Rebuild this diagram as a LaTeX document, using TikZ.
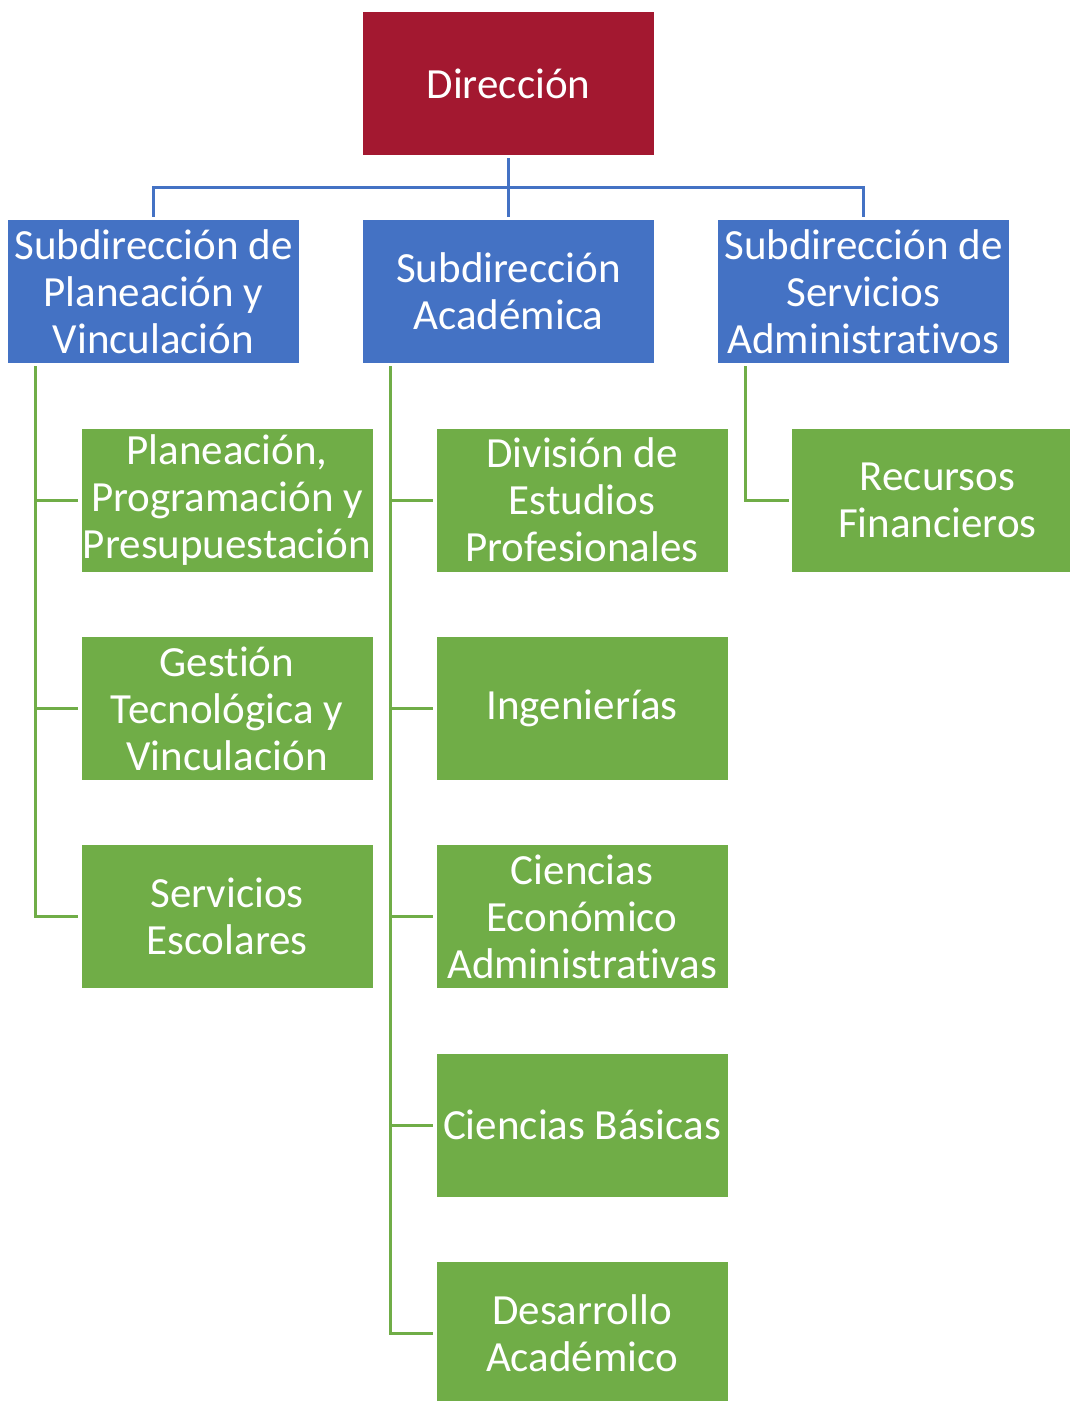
\documentclass[tikz,border=0pt]{standalone}
\usepackage{fontspec}
\setmainfont{Carlito}[Ligatures={NoCommon}]
\definecolor{cred}{HTML}{A31830}
\definecolor{cblue}{HTML}{4472C4}
\definecolor{cgreen}{HTML}{70AD47}
\begin{document}
\begin{tikzpicture}[x=1pt,y=-1pt,
  box/.style={rectangle,inner sep=0pt,minimum width=291pt,minimum height=143pt,
    text=white,align=center,font=\fontsize{43}{47}\selectfont},
  redbox/.style={box,fill=cred},
  bluebox/.style={box,fill=cblue},
  greenbox/.style={box,fill=cgreen},
  bline/.style={draw=cblue,line width=3pt,shorten <=3pt,shorten >=3pt},
  gline/.style={draw=cgreen,line width=3pt,shorten <=3pt,shorten >=3pt}]
\useasboundingbox (0,0) rectangle (1070,1401);
\node[redbox] (dir) at (508.5,83.5) {Dirección};
\node[bluebox] (s1) at (153.5,291.5) {Subdirección de\\Planeación y\\Vinculación};
\node[bluebox] (s2) at (508.5,291.5) {Subdirección\\Académica};
\node[bluebox] (s3) at (863.5,291.5) {Subdirección de\\Servicios\\Administrativos};
\node[greenbox] (a1) at (227,500) {Planeación,\\Programación y\\Presupuestación};
\node[greenbox] (a2) at (227,708.5) {Gestión\\Tecnológica y\\Vinculación};
\node[greenbox] (a3) at (227,916.5) {Servicios\\Escolares};
\node[greenbox] (b1) at (582,500) {División de\\Estudios\\Profesionales};
\node[greenbox] (b2) at (582,708.5) {Ingenierías};
\node[greenbox] (b3) at (582,916.5) {Ciencias\\Económico\\Administrativas};
\node[greenbox] (b4) at (582,1125) {Ciencias Básicas};
\node[greenbox] (b5) at (582,1333.5) {Desarrollo\\Académico};
\node[greenbox] (c1) at (937.5,500) {Recursos\\Financieros};
\coordinate (bus) at (508.5,187);
\draw[bline] (dir.south) -- (s2.north);
\draw[draw=cblue,line width=3pt,shorten <=3pt] (s1.north) |- (bus);
\draw[draw=cblue,line width=3pt,shorten >=3pt] (bus) -| (s3.north);
\foreach \c in {a1,a2,a3}{\draw[gline] ([xshift=28pt]s1.south west) |- (\c.west);}
\foreach \c in {b1,b2,b3,b4,b5}{\draw[gline] ([xshift=28pt]s2.south west) |- (\c.west);}
\draw[gline] ([xshift=28pt]s3.south west) |- (c1.west);
\end{tikzpicture}
\end{document}
